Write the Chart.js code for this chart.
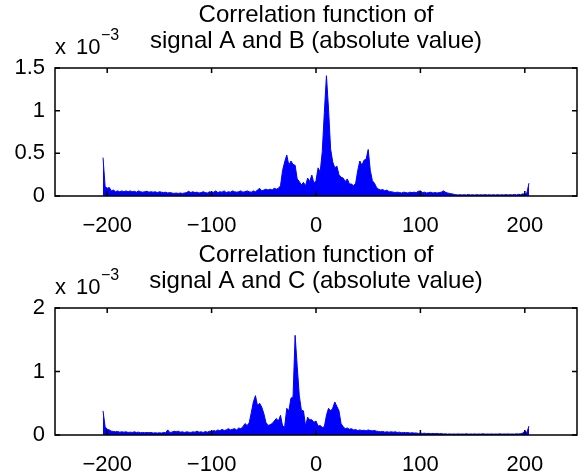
<!DOCTYPE html>
<html>
<head>
<meta charset="utf-8">
<script src="https://cdn.jsdelivr.net/npm/chart.js@4.4.1/dist/chart.umd.min.js"></script>
<style>
  html, body { margin: 0; padding: 0; background: #fff; }
  #wrap { position: relative; width: 584px; height: 472px; }
  .panel { position: absolute; left: 0; width: 584px; }
</style>
</head>
<body>
<div id="wrap">
  <div class="panel" style="top:0;height:240px"><canvas id="chartAB"></canvas></div>
  <div class="panel" style="top:240px;height:232px"><canvas id="chartAC"></canvas></div>
</div>
<script>
// lags of the correlation, every second lag from -204 to 204
const lagStart = -204, lagStep = 2;

// |corr(A,B)| in units of 1e-3
const absAB = [
  0.45, 0.11, 0.09, 0.10, 0.06, 0.07, 0.05, 0.06, 0.05, 0.06,      // -204
  0.05, 0.06, 0.05, 0.06, 0.05, 0.055, 0.045, 0.06, 0.05, 0.045,   // -184
  0.05, 0.055, 0.045, 0.05, 0.045, 0.05, 0.04, 0.05, 0.045, 0.04,  // -164
  0.045, 0.035, 0.04, 0.035, 0.03, 0.035, 0.03, 0.035, 0.03, 0.035,// -144
  0.04, 0.055, 0.04, 0.05, 0.04, 0.045, 0.035, 0.04, 0.05, 0.04,   // -124
  0.035, 0.05, 0.04, 0.045, 0.06, 0.04, 0.05, 0.045, 0.06, 0.04,   // -104
  0.05, 0.045, 0.06, 0.05, 0.045, 0.05, 0.06, 0.045, 0.05, 0.06,   // -84
  0.05, 0.045, 0.06, 0.05, 0.07, 0.09, 0.06, 0.07, 0.08, 0.07,     // -64
  0.08, 0.07, 0.09, 0.08, 0.09, 0.12, 0.30, 0.40, 0.48, 0.36,      // -44
  0.41, 0.37, 0.36, 0.20, 0.17, 0.13, 0.16, 0.12, 0.21, 0.17,      // -24
  0.245, 0.15, 0.18, 0.33, 0.28, 0.52, 0.98, 1.41, 1.02, 0.55,     // -4
  0.40, 0.33, 0.35, 0.25, 0.22, 0.21, 0.17, 0.20, 0.14, 0.14,      // 16
  0.12, 0.15, 0.30, 0.41, 0.36, 0.42, 0.43, 0.545, 0.30, 0.18,     // 36
  0.15, 0.10, 0.08, 0.07, 0.075, 0.06, 0.07, 0.05, 0.05, 0.045,    // 56
  0.04, 0.045, 0.04, 0.035, 0.045, 0.04, 0.035, 0.045, 0.04, 0.045,// 76
  0.04, 0.055, 0.06, 0.04, 0.045, 0.035, 0.04, 0.045, 0.035, 0.04, // 96
  0.035, 0.04, 0.045, 0.06, 0.045, 0.035, 0.03, 0.025, 0.02, 0.015,// 116
  0.012, 0.015, 0.012, 0.015, 0.012, 0.018, 0.012, 0.015, 0.012, 0.016, // 136
  0.012, 0.014, 0.012, 0.016, 0.012, 0.015, 0.012, 0.015, 0.012, 0.016, // 156
  0.012, 0.014, 0.012, 0.016, 0.012, 0.015, 0.013, 0.018, 0.012, 0.02,  // 176
  0.015, 0.025, 0.02, 0.035, 0.15                                       // 196
];

// |corr(A,C)| in units of 1e-3
const absAC = [
  0.38, 0.13, 0.09, 0.08, 0.06, 0.055, 0.05, 0.055, 0.045, 0.05,   // -204
  0.045, 0.05, 0.04, 0.045, 0.04, 0.05, 0.04, 0.045, 0.035, 0.04,  // -184
  0.035, 0.04, 0.035, 0.04, 0.03, 0.035, 0.03, 0.035, 0.03, 0.04,  // -164
  0.035, 0.08, 0.04, 0.045, 0.06, 0.05, 0.06, 0.045, 0.05, 0.04,   // -144
  0.05, 0.045, 0.04, 0.05, 0.045, 0.06, 0.045, 0.05, 0.04, 0.055,  // -124
  0.045, 0.06, 0.05, 0.07, 0.06, 0.08, 0.065, 0.09, 0.07, 0.08,    // -104
  0.10, 0.08, 0.09, 0.10, 0.08, 0.11, 0.10, 0.13, 0.18, 0.15,      // -84
  0.19, 0.35, 0.52, 0.62, 0.46, 0.50, 0.44, 0.34, 0.20, 0.15,      // -64
  0.16, 0.18, 0.22, 0.26, 0.22, 0.31, 0.14, 0.13, 0.42, 0.38,      // -44
  0.58, 0.60, 1.57, 1.08, 0.62, 0.39, 0.38, 0.14, 0.28, 0.24,      // -24
  0.24, 0.20, 0.22, 0.14, 0.15, 0.12, 0.13, 0.31, 0.42, 0.38,      // -4
  0.42, 0.52, 0.45, 0.38, 0.18, 0.13, 0.10, 0.11, 0.09, 0.10,      // 16
  0.08, 0.085, 0.07, 0.08, 0.07, 0.075, 0.065, 0.08, 0.07, 0.065,  // 36
  0.07, 0.06, 0.055, 0.05, 0.055, 0.045, 0.05, 0.045, 0.05, 0.045, // 56
  0.05, 0.04, 0.045, 0.035, 0.04, 0.035, 0.038, 0.03, 0.035, 0.03, // 76
  0.032, 0.025, 0.03, 0.025, 0.028, 0.022, 0.026, 0.02, 0.025, 0.02, // 96
  0.024, 0.018, 0.022, 0.016, 0.018, 0.014, 0.017, 0.014, 0.016, 0.014, // 116
  0.017, 0.014, 0.016, 0.014, 0.018, 0.014, 0.016, 0.014, 0.017, 0.014, // 136
  0.016, 0.014, 0.018, 0.014, 0.016, 0.014, 0.017, 0.014, 0.016, 0.014, // 156
  0.018, 0.014, 0.016, 0.014, 0.017, 0.014, 0.016, 0.014, 0.018, 0.016, // 176
  0.02, 0.03, 0.06, 0.04, 0.14                                          // 196
];

const xTicks = [-200, -100, 0, 100, 200];
const yTicksAB = [0, 0.5, 1, 1.5];
const yTicksAC = [0, 1, 2];

Chart.defaults.font.family = '"Liberation Sans", Arial, Helvetica, sans-serif';
Chart.defaults.color = '#000';

const fmt = v => (v < 0 ? '\u2212' + Math.abs(v) : String(v));

// matlab style box, inward ticks and the "x 10^-3" multiplier
const matlabFrame = {
  id: 'matlabFrame',
  afterDatasetsDraw(chart, args, opts) {
    const { ctx, chartArea: a, scales: { x, y } } = chart;
    ctx.save();
    ctx.strokeStyle = '#000';
    ctx.lineWidth = 1.5;
    ctx.strokeRect(a.left, a.top, a.right - a.left, a.bottom - a.top);
    ctx.beginPath();
    x.ticks.forEach(t => {
      const px = x.getPixelForValue(t.value);
      ctx.moveTo(px, a.bottom); ctx.lineTo(px, a.bottom - 5);
      ctx.moveTo(px, a.top); ctx.lineTo(px, a.top + 5);
    });
    y.ticks.forEach(t => {
      const py = y.getPixelForValue(t.value);
      ctx.moveTo(a.left, py); ctx.lineTo(a.left + 5, py);
      ctx.moveTo(a.right, py); ctx.lineTo(a.right - 5, py);
    });
    ctx.stroke();
    ctx.fillStyle = '#000';
    ctx.textAlign = 'left';
    ctx.textBaseline = 'alphabetic';
    ctx.font = '22px "Liberation Sans", Arial, sans-serif';
    ctx.fillText('x', a.left, 54);
    ctx.fillText('10', a.left + 21, 54);
    ctx.font = '16px "Liberation Sans", Arial, sans-serif';
    ctx.fillText(opts.exponent, a.left + 46, 40);
    ctx.restore();
  }
};

function makeChart(id, titleLines, values, yMax, yTicks, xAxisHeight) {
  return new Chart(document.getElementById(id), {
    type: 'line',
    data: {
      datasets: [{
        data: values.map((v, i) => ({ x: lagStart + i * lagStep, y: v })),
        borderColor: 'rgb(0,0,255)',
        backgroundColor: 'rgb(0,0,255)',
        borderWidth: 1,
        fill: 'origin',
        pointRadius: 0,
        tension: 0
      }]
    },
    options: {
      responsive: true,
      maintainAspectRatio: false,
      animation: false,
      events: [],
      layout: { padding: { left: 0, right: 7, top: 0, bottom: 0 } },
      plugins: {
        legend: { display: false },
        tooltip: { enabled: false },
        title: {
          display: true,
          fullSize: false,
          text: titleLines,
          color: '#000',
          font: { size: 24, weight: 'normal', lineHeight: 26 / 24 },
          padding: { top: 2, bottom: 14 }
        },
        matlabFrame: { exponent: '\u22123' }
      },
      scales: {
        x: {
          type: 'linear',
          min: -250,
          max: 250,
          grid: { display: false, drawTicks: false },
          border: { display: false },
          afterBuildTicks: s => { s.ticks = xTicks.map(v => ({ value: v })); },
          afterFit: s => { s.height = xAxisHeight; },
          ticks: { font: { size: 22 }, padding: 17, maxRotation: 0, callback: fmt }
        },
        y: {
          min: 0,
          max: yMax,
          grid: { display: false, drawTicks: false },
          border: { display: false },
          afterBuildTicks: s => { s.ticks = yTicks.map(v => ({ value: v })); },
          afterFit: s => { s.width = 55; },
          ticks: { font: { size: 22 }, padding: 10, callback: fmt }
        }
      }
    },
    plugins: [matlabFrame]
  });
}

makeChart('chartAB', ['Correlation function of', 'signal A and B (absolute value)'],
  absAB, 1.5, yTicksAB, 44);
makeChart('chartAC', ['Correlation function of', 'signal A and C (absolute value)'],
  absAC, 2, yTicksAC, 37);
</script>
</body>
</html>
